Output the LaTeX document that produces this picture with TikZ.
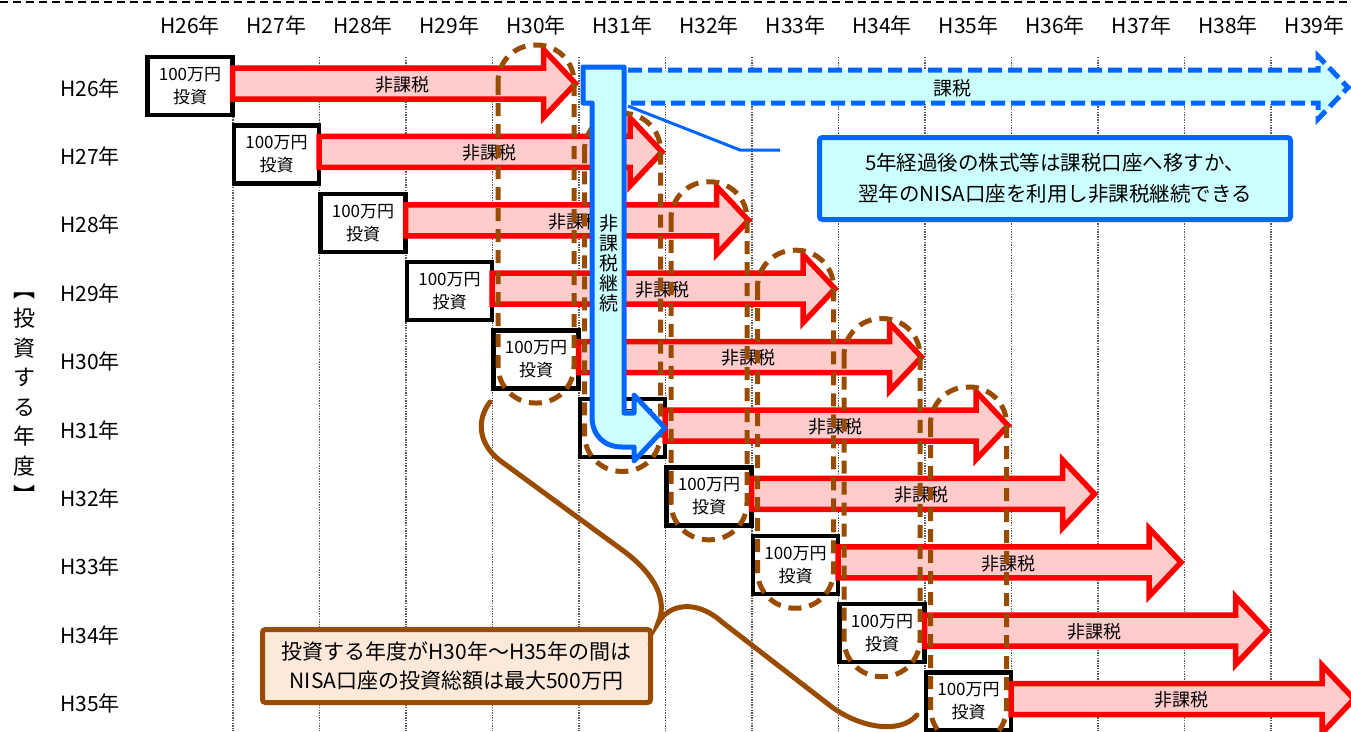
\documentclass[tikz,border=0pt]{standalone}
\usepackage{fontspec}
\setmainfont{Noto Sans CJK JP}
\usetikzlibrary{calc}
\definecolor{nred}{RGB}{255,0,0}
\definecolor{npink}{RGB}{255,204,204}
\definecolor{nblue}{RGB}{0,102,255}
\definecolor{ncyan}{RGB}{204,255,255}
\definecolor{nbrown}{RGB}{153,76,0}
\definecolor{npeach}{RGB}{253,233,217}
\tikzset{
  pics/redarr/.style={code={
    \draw[redarrow] (0,-15.5) -- (311,-15.5) -- (311,-34) -- (343,0) -- (311,34) -- (311,15.5) -- (0,15.5) -- cycle;
    \node[arrtxt] at (170,1) {非課税};
  }}
}
\begin{document}
\begin{tikzpicture}[x=1pt,y=-1pt,
  hdr/.style={font=\fontsize{21}{25}\selectfont, inner sep=0pt},
  gridline/.style={draw=black!65, line width=1.3pt, dash pattern=on 1.3pt off 1.3pt},
  topline/.style={draw=black, line width=2pt, dash pattern=on 8pt off 5pt},
  invbox/.style={draw=black, line width=4.5pt, fill=white, minimum width=85pt, minimum height=58pt, inner sep=0pt, align=center, font=\fontsize{17}{23}\selectfont},
  redarrow/.style={draw=nred, fill=npink, line width=5.5pt},
  arrtxt/.style={font=\fontsize{18}{20}\selectfont, inner sep=0pt},
  stadium/.style={draw=nbrown, line width=5pt, dash pattern=on 13pt off 8pt, rounded corners=37pt},
  blueshape/.style={draw=nblue, fill=ncyan, line width=5pt, line join=round},
  taxdash/.style={draw=nblue, line width=5pt, dash pattern=on 14pt off 6pt},
  shafttxt/.style={font=\fontsize{19}{20}\selectfont, inner sep=0pt, align=center},
  bluenote/.style={draw=nblue, fill=ncyan, line width=5pt, rounded corners=3pt, minimum width=471pt, minimum height=82pt, inner sep=0pt, align=center, font=\fontsize{20.5}{31}\selectfont},
  brownnote/.style={draw=nbrown, fill=npeach, line width=5pt, rounded corners=3pt, minimum width=388pt, minimum height=73pt, inner sep=0pt, align=center, font=\fontsize{21}{29}\selectfont},
  thinblue/.style={draw=nblue, line width=3pt},
  brace/.style={draw=nbrown, line width=5pt, line cap=round}
]
\useasboundingbox (0,0) rectangle (1351,731);
% top dashed line
\coordinate (tl) at (0,2);
\coordinate (tr) at (1351,2);
\draw[topline] (tl) -- (tr);
% grid lines
\foreach \k in {0,...,12} {
  \coordinate (gt\k) at ({233+86.5*\k},57);
  \coordinate (gb\k) at ({233+86.5*\k},731);
  \draw[gridline] (gt\k) -- (gb\k);
}
% column headers
\foreach \k/\t in {0/H26年,1/H27年,2/H28年,3/H29年,4/H30年,5/H31年,6/H32年,7/H33年,8/H34年,9/H35年,10/H36年,11/H37年,12/H38年,13/H39年} {
  \node[hdr] (col\k) at ({190+86.5*\k},25) {\t};
}
% row labels
\foreach \i/\t in {0/H26年,1/H27年,2/H28年,3/H29年,4/H30年,5/H31年,6/H32年,7/H33年,8/H34年,9/H35年} {
  \node[hdr] (row\i) at (90,{88+68.4*\i}) {\t};
}
% vertical axis label
\node[font=\fontsize{22}{29.5}\selectfont, inner sep=0pt, align=center] (ylab) at (24,398) {︻\\投\\資\\す\\る\\年\\度\\︼};
% boxes and arrows
\foreach \i in {0,...,9} {
  \node[invbox] (b\i) at ({190+86.5*\i},{86+68.4*\i}) {100万円\\投資};
  \pic at ($(b\i.center)+(42.5,-2.5)$) {redarr};
}
% brown dashed stadiums
\foreach \k in {0,...,5} {
  \draw[stadium] ({536+86.5*\k-38},{45+68.4*\k}) rectangle ({536+86.5*\k+38},{403+68.4*\k});
}
% taxed arrow fill
\fill[ncyan] (622,70) -- (1318,70) -- (1318,56) -- (1348,87.5) -- (1318,119) -- (1318,103) -- (622,103) -- cycle;
% bent blue arrow
\draw[blueshape] (583,67) -- (624,67) -- (624,413) -- (634,413) -- (634,395) -- (665,428) -- (634,461) -- (634,447) -- (622,447) .. controls (604,447) and (592,435) .. (592,417) -- (592,103) -- (583,103) -- cycle;
% taxed arrow dashed outline
\draw[taxdash] (628,70) -- (1318,70) -- (1318,56) -- (1348,87.5) -- (1318,119) -- (1318,103) -- (628,103);
\node[arrtxt, font=\fontsize{19}{20}\selectfont] (tax) at (952,88) {課税};
\node[shafttxt] (shaft) at (609,263) {非\\課\\税\\継\\続};
% blue note
\node[bluenote] (note1) at (1055,178.5) {5年経過後の株式等は課税口座へ移すか、\\翌年のNISA口座を利用し非課税継続できる};
\coordinate (ls) at (628,106);
\coordinate (lm) at (740,150);
\coordinate (le) at (780,150);
\draw[thinblue] (ls) -- (lm) -- (le);
% brown note and brace
\node[brownnote] (note2) at (456.5,666) {投資する年度がH30年～H35年の間は\\NISA口座の投資総額は最大500万円};
\coordinate (bA) at (490,402);
\coordinate (bTip) at (658,623);
\coordinate (bB) at (917,715);
\draw[brace] (bA) .. controls (476,420) and (478,445) .. (502,462) -- (625,552) .. controls (655,575) and (668,600) .. (bTip) .. controls (668,605) and (695,598) .. (722,622) -- (828,704) .. controls (858,728) and (900,735) .. (bB);
\end{tikzpicture}
\end{document}
